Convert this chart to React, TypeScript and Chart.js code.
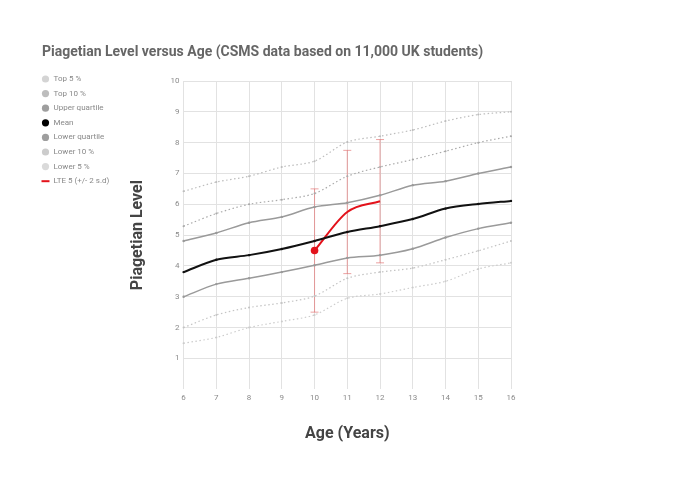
import React, { useEffect, useRef } from "react";
import { Chart, registerables } from "chart.js";

Chart.register(...registerables);

const ages = ["6", "7", "8", "9", "10", "11", "12", "13", "14", "15", "16"];
const top5 = [6.42, 6.72, 6.91, 7.21, 7.4, 8.02, 8.21, 8.41, 8.7, 8.91, 9.0];
const top10 = [5.29, 5.7, 6.0, 6.15, 6.35, 6.91, 7.21, 7.45, 7.72, 8.0, 8.21];
const upperQuartile = [4.81, 5.07, 5.4, 5.59, 5.91, 6.05, 6.29, 6.62, 6.75, 7.0, 7.21];
const mean = [3.8, 4.2, 4.35, 4.55, 4.81, 5.1, 5.29, 5.52, 5.86, 6.01, 6.11];
const lowerQuartile = [3.0, 3.41, 3.6, 3.8, 4.02, 4.26, 4.35, 4.56, 4.92, 5.21, 5.4];
const lower10 = [2.0, 2.41, 2.65, 2.8, 3.02, 3.6, 3.8, 3.93, 4.2, 4.49, 4.81];
const lower5 = [1.49, 1.68, 2.0, 2.2, 2.41, 2.95, 3.09, 3.3, 3.5, 3.9, 4.1];
const lte5 = [null, null, null, null, 4.5, 5.75, 6.1, null, null, null, null];
const lte5Spread = [null, null, null, null, 2, 2, 2, null, null, null, null];
const yTicks = [1, 2, 3, 4, 5, 6, 7, 8, 9, 10];

const FONT = "Roboto";

const errorBars = {
  id: "errorBars",
  beforeDatasetsDraw(chart: any) {
    const { ctx, scales } = chart;
    const xs = scales.x;
    const ys = scales.y;
    ctx.save();
    ctx.strokeStyle = "rgba(226, 110, 110, 0.65)";
    ctx.lineWidth = 1;
    lte5.forEach((v, i) => {
      const s = lte5Spread[i];
      if (v == null || s == null) return;
      const x = xs.getPixelForValue(i);
      const yt = ys.getPixelForValue(v + s);
      const yb = ys.getPixelForValue(v - s);
      ctx.beginPath();
      ctx.moveTo(x, yt);
      ctx.lineTo(x, yb);
      ctx.moveTo(x - 4, yt);
      ctx.lineTo(x + 4, yt);
      ctx.moveTo(x - 4, yb);
      ctx.lineTo(x + 4, yb);
      ctx.stroke();
    });
    ctx.restore();
  },
};

const sideLegend = {
  id: "sideLegend",
  afterDraw(chart: any) {
    const { ctx } = chart;
    ctx.save();
    ctx.font = `8px ${FONT}`;
    ctx.textBaseline = "middle";
    ctx.textAlign = "left";
    chart.data.datasets.forEach((ds: any, i: number) => {
      const y = 79 + i * 14.6;
      const cx = 45.5;
      if (ds.legendStyle === "line") {
        ctx.strokeStyle = ds.borderColor;
        ctx.lineWidth = 2;
        ctx.beginPath();
        ctx.moveTo(cx - 4, y);
        ctx.lineTo(cx + 4, y);
        ctx.stroke();
      } else {
        ctx.fillStyle = ds.legendColor || ds.borderColor;
        ctx.beginPath();
        ctx.arc(cx, y, 3.6, 0, Math.PI * 2);
        ctx.fill();
      }
      ctx.fillStyle = "#888888";
      ctx.fillText(ds.label, 53.5, y);
    });
    ctx.restore();
  },
};

function grayLine(label: string, data: number[], color: string, legendColor: string, dotted: boolean, width: number) {
  return {
    label,
    data,
    borderColor: color,
    backgroundColor: color,
    legendColor,
    borderWidth: width,
    borderDash: dotted ? [1.5, 2.5] : [],
    pointRadius: dotted ? 1 : 1.2,
    pointBackgroundColor: color,
    pointBorderWidth: 0,
    tension: 0.3,
    fill: false,
  };
}

export default function App() {
  const ref = useRef<HTMLCanvasElement | null>(null);
  useEffect(() => {
    if (!ref.current) return;
    const chart = new Chart(ref.current, {
      type: "line",
      data: {
        labels: ages,
        datasets: [
          grayLine("Top 5 %", top5, "#bdbdbd", "#d4d4d4", true, 1.2),
          grayLine("Top 10 %", top10, "#aaaaaa", "#bdbdbd", true, 1.2),
          grayLine("Upper quartile", upperQuartile, "#9a9a9a", "#9e9e9e", false, 1.5),
          { ...grayLine("Mean", mean, "#111111", "#000000", false, 2) },
          grayLine("Lower quartile", lowerQuartile, "#9a9a9a", "#9e9e9e", false, 1.5),
          grayLine("Lower 10 %", lower10, "#c4c4c4", "#cccccc", true, 1.2),
          grayLine("Lower 5 %", lower5, "#cccccc", "#dadada", true, 1.2),
          {
            label: "LTE 5 (+/- 2 s.d)",
            data: lte5,
            borderColor: "#e3121b",
            backgroundColor: "#e3121b",
            legendStyle: "line",
            borderWidth: 2,
            cubicInterpolationMode: "monotone",
            pointRadius: (c: any) => (c.dataIndex === lte5.findIndex((v) => v != null) ? 3.8 : 0),
            pointBackgroundColor: "#e3121b",
            pointBorderWidth: 0,
            spanGaps: false,
            fill: false,
          } as any,
        ] as any,
      },
      options: {
        animation: false,
        responsive: true,
        maintainAspectRatio: false,
        layout: { padding: { left: 42, top: 30, right: 169, bottom: 37 } },
        plugins: {
          legend: { display: false },
          tooltip: { enabled: false },
          title: {
            display: true,
            text: "Piagetian Level versus Age (CSMS data based on 11,000 UK students)",
            align: "start",
            color: "#666666",
            font: { family: FONT, size: 14, weight: "bold" },
            padding: { top: 13.6, bottom: 20.6 },
          },
        },
        scales: {
          x: {
            type: "category",
            offset: false,
            grid: { color: "#e2e2e2", drawTicks: false },
            border: { display: false },
            ticks: { color: "#8a8a8a", font: { family: FONT, size: 8 }, padding: 4, maxRotation: 0 },
            title: {
              display: true,
              text: "Age (Years)",
              color: "#444444",
              font: { family: FONT, size: 16, weight: "bold" },
              padding: { top: 18, bottom: 0 },
            },
          },
          y: {
            min: 0,
            max: 10,
            grid: { color: "#e2e2e2", drawTicks: false },
            border: { display: false },
            afterBuildTicks: (axis: any) => {
              axis.ticks = yTicks.map((v) => ({ value: v }));
            },
            ticks: { color: "#8a8a8a", font: { family: FONT, size: 8 }, padding: 4 },
            title: {
              display: true,
              text: "Piagetian Level",
              color: "#444444",
              font: { family: FONT, size: 16, weight: "bold" },
              padding: { top: 86.4, bottom: 19 },
            },
          },
        },
      } as any,
      plugins: [errorBars, sideLegend],
    });
    return () => chart.destroy();
  }, []);
  return (
    <div style={{ position: "absolute", left: 0, top: 0, width: 680, height: 481 }}>
      <canvas ref={ref} />
    </div>
  );
}
